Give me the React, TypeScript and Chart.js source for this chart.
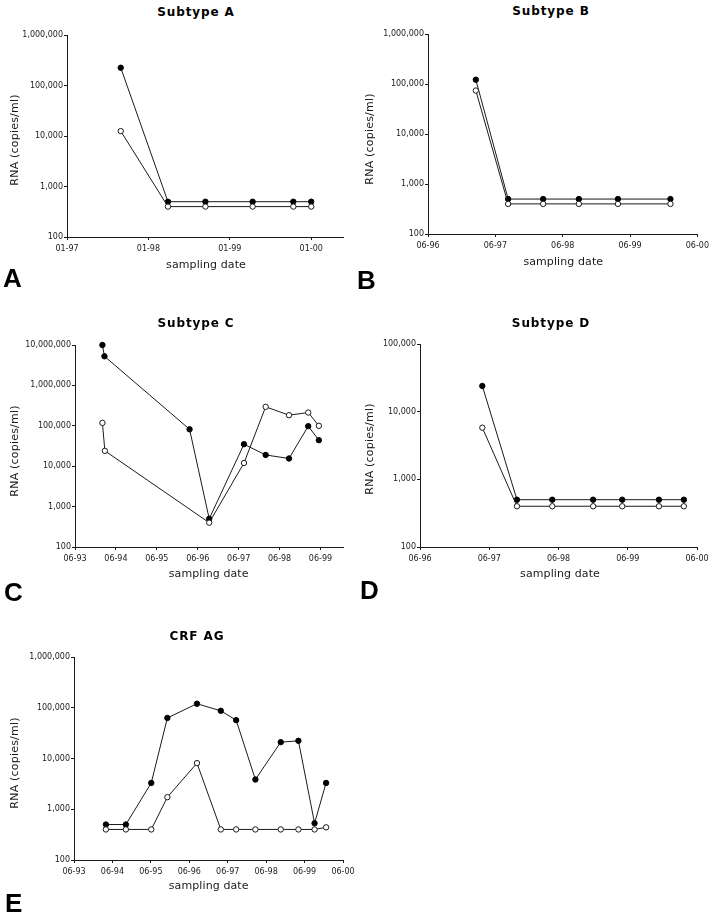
import React, { useEffect, useRef } from 'react';
import { Chart, registerables } from 'chart.js';

Chart.register(...registerables);

// ---------- data ----------
const yTicks6 = [100, 1000, 10000, 100000, 1000000];
const yTicks7 = [100, 1000, 10000, 100000, 1000000, 10000000];
const yTicks5 = [100, 1000, 10000, 100000];

const aTickValues = [1997, 1998, 1999, 2000];
const aTickLabels = ['01-97', '01-98', '01-99', '01-00'];
const aDates = [1997.66, 1998.24, 1998.7, 1999.28, 1999.78, 2000.0];
const aFilled = [225000, 500, 500, 500, 500, 500];
const aOpen = [12500, 400, 400, 400, 400, 400];

const bTickValues = [1996.5, 1997.5, 1998.5, 1999.5, 2000.5];
const bTickLabels = ['06-96', '06-97', '06-98', '06-99', '06-00'];
const bDates = [1997.21, 1997.69, 1998.21, 1998.74, 1999.32, 2000.1];
const bFilled = [122000, 500, 500, 500, 500, 500];
const bOpen = [74000, 400, 400, 400, 400, 400];

const cTickValues = [1993.5, 1994.5, 1995.5, 1996.5, 1997.5, 1998.5, 1999.5];
const cTickLabels = ['06-93', '06-94', '06-95', '06-96', '06-97', '06-98', '06-99'];
const cFilledDates = [1994.17, 1994.22, 1996.3, 1996.78, 1997.63, 1998.16, 1998.73, 1999.2, 1999.46];
const cFilled = [10000000, 5250000, 82000, 500, 35000, 19000, 15500, 98000, 44000];
const cOpenDates = [1994.17, 1994.23, 1996.78, 1997.63, 1998.16, 1998.73, 1999.2, 1999.46];
const cOpen = [118000, 24000, 400, 12000, 295000, 183000, 213000, 100000];

const dTickValues = [1996.5, 1997.5, 1998.5, 1999.5, 2000.5];
const dTickLabels = ['06-96', '06-97', '06-98', '06-99', '06-00'];
const dDates = [1997.4, 1997.9, 1998.41, 1999.0, 1999.42, 1999.95, 2000.31];
const dFilled = [24000, 500, 500, 500, 500, 500, 500];
const dOpen = [5800, 400, 400, 400, 400, 400, 400];

const eTickValues = [1993.5, 1994.5, 1995.5, 1996.5, 1997.5, 1998.5, 1999.5, 2000.5];
const eTickLabels = ['06-93', '06-94', '06-95', '06-96', '06-97', '06-98', '06-99', '06-00'];
const eDates = [1994.33, 1994.85, 1995.51, 1995.93, 1996.7, 1997.32, 1997.72, 1998.22, 1998.88, 1999.34, 1999.76, 2000.06];
const eFilled = [500, 500, 3300, 63000, 120000, 87000, 57000, 3850, 21000, 22300, 530, 3300];
const eOpen = [400, 400, 400, 1730, 8100, 400, 400, 400, 400, 400, 400, 440];

const yAxisTitle = 'RNA (copies/ml)';
const xAxisTitle = 'sampling date';

// ---------- layout ----------
type Area = { left: number; top: number; right: number; bottom: number };
type PanelDef = {
  letter: string;
  title: string;
  filledDates: number[];
  filled: number[];
  openDates: number[];
  open: number[];
  xMin: number;
  xMax: number;
  xTicks: number[];
  xLabels: string[];
  yMax: number;
  yTicks: number[];
  area: Area;
  titlePos: [number, number];
  xTitlePos: [number, number];
  yTitlePos: [number, number];
  letterPos: [number, number];
};

const PANELS: PanelDef[] = [
  {
    letter: 'A', title: 'Subtype A',
    filledDates: aDates, filled: aFilled, openDates: aDates, open: aOpen,
    xMin: 1997, xMax: 2000.39, xTicks: aTickValues, xLabels: aTickLabels,
    yMax: 1000000, yTicks: yTicks6,
    area: { left: 67, top: 35, right: 343, bottom: 237 },
    titlePos: [196, 11.7], xTitlePos: [206, 265], yTitlePos: [14.5, 139.7], letterPos: [3, 278.5],
  },
  {
    letter: 'B', title: 'Subtype B',
    filledDates: bDates, filled: bFilled, openDates: bDates, open: bOpen,
    xMin: 1996.5, xMax: 2000.5, xTicks: bTickValues, xLabels: bTickLabels,
    yMax: 1000000, yTicks: yTicks6,
    area: { left: 428, top: 34, right: 698, bottom: 234 },
    titlePos: [551, 11.3], xTitlePos: [563.3, 262.5], yTitlePos: [369.5, 138.5], letterPos: [357, 280],
  },
  {
    letter: 'C', title: 'Subtype C',
    filledDates: cFilledDates, filled: cFilled, openDates: cOpenDates, open: cOpen,
    xMin: 1993.5, xMax: 2000.05, xTicks: cTickValues, xLabels: cTickLabels,
    yMax: 10000000, yTicks: yTicks7,
    area: { left: 75, top: 345, right: 343, bottom: 547 },
    titlePos: [196, 323.3], xTitlePos: [208.7, 574.5], yTitlePos: [14.5, 450.8], letterPos: [4, 592.5],
  },
  {
    letter: 'D', title: 'Subtype D',
    filledDates: dDates, filled: dFilled, openDates: dDates, open: dOpen,
    xMin: 1996.5, xMax: 2000.5, xTicks: dTickValues, xLabels: dTickLabels,
    yMax: 100000, yTicks: yTicks5,
    area: { left: 420, top: 344, right: 697, bottom: 547 },
    titlePos: [551, 323.3], xTitlePos: [560, 574], yTitlePos: [369.5, 449], letterPos: [360, 590.5],
  },
  {
    letter: 'E', title: 'CRF AG',
    filledDates: eDates, filled: eFilled, openDates: eDates, open: eOpen,
    xMin: 1993.5, xMax: 2000.5, xTicks: eTickValues, xLabels: eTickLabels,
    yMax: 1000000, yTicks: yTicks6,
    area: { left: 74, top: 657, right: 343, bottom: 860 },
    titlePos: [197, 635.5], xTitlePos: [208.7, 886.7], yTitlePos: [14.5, 762.8], letterPos: [5, 903],
  },
];

const Y_W = 62;
const X_H = 24;
const TOP_PAD = 12;
const RIGHT_PAD = 16;
const INK = '#1a1a1a';
const FONT = "'DejaVu Sans', Verdana, sans-serif";

function PanelChart({ p }: { p: PanelDef }) {
  const ref = useRef<HTMLCanvasElement | null>(null);
  const cLeft = p.area.left - Y_W;
  const cTop = p.area.top - TOP_PAD;
  const cRight = Math.min(713, p.area.right + RIGHT_PAD);
  const width = cRight - cLeft;
  const height = p.area.bottom + X_H - cTop;
  const padRight = cRight - p.area.right;

  useEffect(() => {
    if (!ref.current) return;
    const openPts = p.openDates.map((d, i) => ({ x: d, y: p.open[i] }));
    const filledPts = p.filledDates.map((d, i) => ({ x: d, y: p.filled[i] }));
    const axisCommon = {
      grid: { display: true, drawOnChartArea: false, drawTicks: true, tickLength: 3, color: INK, lineWidth: 1 },
      border: { display: true, color: INK, width: 1 },
    };
    const chart = new Chart(ref.current, {
      type: 'line',
      data: {
        datasets: [
          {
            label: 'open',
            data: openPts,
            borderColor: INK,
            borderWidth: 1,
            backgroundColor: '#ffffff',
            pointBackgroundColor: '#ffffff',
            pointBorderColor: INK,
            pointBorderWidth: 1,
            pointRadius: 2.7,
            tension: 0,
            clip: false,
          },
          {
            label: 'filled',
            data: filledPts,
            borderColor: INK,
            borderWidth: 1,
            backgroundColor: '#000000',
            pointBackgroundColor: '#000000',
            pointBorderColor: '#000000',
            pointBorderWidth: 1,
            pointRadius: 2.7,
            tension: 0,
            clip: false,
          },
        ],
      },
      options: {
        responsive: false,
        animation: false,
        devicePixelRatio: 1,
        layout: { padding: { left: 0, top: TOP_PAD, right: padRight, bottom: 0 } },
        plugins: { legend: { display: false }, tooltip: { enabled: false }, title: { display: false } },
        events: [],
        scales: {
          x: {
            type: 'linear',
            min: p.xMin,
            max: p.xMax,
            ...axisCommon,
            ticks: {
              autoSkip: false,
              maxRotation: 0,
              minRotation: 0,
              padding: 4,
              color: INK,
              font: { family: FONT, size: 8 },
              callback: (v: any) => {
                const idx = p.xTicks.findIndex((t) => Math.abs(t - Number(v)) < 1e-6);
                return idx >= 0 ? p.xLabels[idx] : '';
              },
            },
            afterBuildTicks: (axis: any) => {
              axis.ticks = p.xTicks.map((v) => ({ value: v }));
            },
            afterFit: (s: any) => {
              s.height = X_H;
            },
          },
          y: {
            type: 'logarithmic',
            min: 100,
            max: p.yMax,
            ...axisCommon,
            ticks: {
              padding: 1,
              color: INK,
              font: { family: FONT, size: 8 },
              callback: (v: any) => Number(v).toLocaleString('en-US'),
            },
            afterBuildTicks: (axis: any) => {
              axis.ticks = p.yTicks.map((v) => ({ value: v, major: true }));
            },
            afterFit: (s: any) => {
              s.width = Y_W;
            },
          },
        },
      } as any,
    });
    return () => chart.destroy();
  }, [p]);

  return (
    <canvas
      ref={ref}
      width={width}
      height={height}
      style={{ position: 'absolute', left: cLeft, top: cTop, width, height }}
    />
  );
}

function App() {
  return (
    <div
      style={{
        position: 'absolute',
        left: 0,
        top: 0,
        width: 713,
        height: 919,
        background: '#ffffff',
        overflow: 'hidden',
        color: '#000',
      }}
    >
      {PANELS.map((p) => (
        <React.Fragment key={p.letter}>
          <PanelChart p={p} />
          <div
            style={{
              position: 'absolute',
              left: p.titlePos[0],
              top: p.titlePos[1] - 0.5815 * 12,
              transform: 'translateX(-50%)',
              font: `bold 12px ${FONT}`,
              lineHeight: '14.4px',
              letterSpacing: '0.9px',
              whiteSpace: 'nowrap',
            }}
          >
            {p.title}
          </div>
          <div
            style={{
              position: 'absolute',
              left: p.xTitlePos[0],
              top: p.xTitlePos[1] - 0.6725 * 11,
              transform: 'translateX(-50%)',
              font: `11px ${FONT}`,
              lineHeight: '13.2px',
              letterSpacing: '0.1px',
              whiteSpace: 'nowrap',
              color: INK,
            }}
          >
            {xAxisTitle}
          </div>
          <div
            style={{
              position: 'absolute',
              left: p.yTitlePos[0],
              top: p.yTitlePos[1],
              transform: 'translate(-50%, -50%) rotate(-90deg)',
              font: `11px ${FONT}`,
              lineHeight: '13.2px',
              letterSpacing: '0.2px',
              whiteSpace: 'nowrap',
              color: INK,
            }}
          >
            {yAxisTitle}
          </div>
          <div
            style={{
              position: 'absolute',
              left: p.letterPos[0],
              top: p.letterPos[1] - 0.5885 * 26,
              font: `bold 26px 'Liberation Sans', Arial, sans-serif`,
              lineHeight: '30.6px',
              whiteSpace: 'nowrap',
            }}
          >
            {p.letter}
          </div>
        </React.Fragment>
      ))}
    </div>
  );
}

export default App;
